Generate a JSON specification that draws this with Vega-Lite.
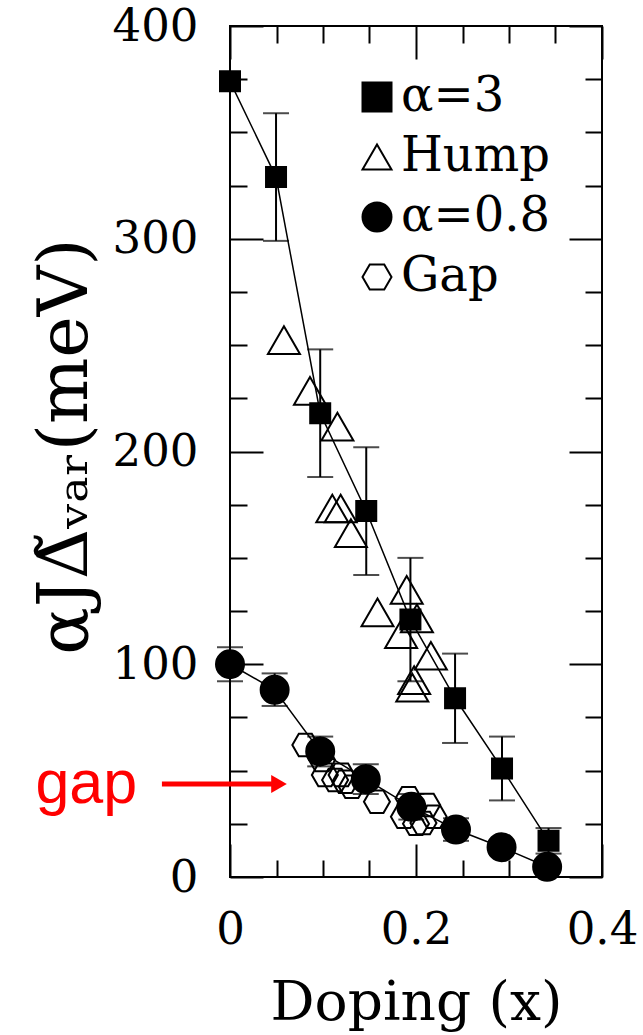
{
  "$schema": "https://vega.github.io/schema/vega-lite/v6.json",
  "width": 372,
  "height": 851,
  "autosize": {"type": "none"},
  "padding": {"left": 230, "top": 26, "right": 41, "bottom": 158},
  "background": "white",
  "config": {
    "view": {"stroke": "black", "strokeWidth": 2},
    "axis": {
      "domain": false,
      "grid": false,
      "tickColor": "black",
      "tickWidth": 2,
      "labelFont": "DejaVu Serif",
      "labelFontSize": 45,
      "labelColor": "black",
      "titleFont": "DejaVu Serif",
      "titleFontWeight": "normal",
      "titleColor": "black"
    },
    "legend": {
      "orient": "none", "legendX": 123, "legendY": 47, "title": null,
      "labelFont": "DejaVu Serif", "labelFontSize": 48, "labelColor": "black",
      "symbolSize": 841, "symbolStrokeWidth": 2,
      "rowPadding": 12, "labelOffset": 0, "padding": 0
    }
  },
  "datasets": {
    "pts": [
      {"series": "Gap", "x": 0.081, "v": 62},
      {"series": "Gap", "x": 0.099, "v": 55},
      {"series": "Gap", "x": 0.102, "v": 48},
      {"series": "Gap", "x": 0.113, "v": 45.6},
      {"series": "Gap", "x": 0.12, "v": 48},
      {"series": "Gap", "x": 0.124, "v": 44.8},
      {"series": "Gap", "x": 0.131, "v": 42.4},
      {"series": "Gap", "x": 0.158, "v": 35.4},
      {"series": "Gap", "x": 0.187, "v": 28.3},
      {"series": "Gap", "x": 0.192, "v": 37},
      {"series": "Gap", "x": 0.197, "v": 32.4},
      {"series": "Gap", "x": 0.2, "v": 25},
      {"series": "Gap", "x": 0.208, "v": 25.4},
      {"series": "Gap", "x": 0.212, "v": 33.8},
      {"series": "Gap", "x": 0.219, "v": 28.3},
      {"series": "Hump", "x": 0.058, "v": 252.4},
      {"series": "Hump", "x": 0.086, "v": 228.5},
      {"series": "Hump", "x": 0.1155, "v": 211.7},
      {"series": "Hump", "x": 0.11, "v": 173.2},
      {"series": "Hump", "x": 0.119, "v": 173.2},
      {"series": "Hump", "x": 0.13, "v": 161.6},
      {"series": "Hump", "x": 0.1586, "v": 124.4},
      {"series": "Hump", "x": 0.19, "v": 135},
      {"series": "Hump", "x": 0.201, "v": 121.6},
      {"series": "Hump", "x": 0.184, "v": 114.2},
      {"series": "Hump", "x": 0.216, "v": 104},
      {"series": "Hump", "x": 0.198, "v": 92.5},
      {"series": "Hump", "x": 0.196, "v": 89},
      {"series": "α=0.8", "x": 0, "v": 100},
      {"series": "α=0.8", "x": 0.048, "v": 88},
      {"series": "α=0.8", "x": 0.097, "v": 59},
      {"series": "α=0.8", "x": 0.146, "v": 46},
      {"series": "α=0.8", "x": 0.195, "v": 33},
      {"series": "α=0.8", "x": 0.243, "v": 22.3},
      {"series": "α=0.8", "x": 0.292, "v": 14},
      {"series": "α=0.8", "x": 0.341, "v": 4.8},
      {"series": "α=3", "x": 0, "v": 374},
      {"series": "α=3", "x": 0.0495, "v": 329},
      {"series": "α=3", "x": 0.097, "v": 218},
      {"series": "α=3", "x": 0.1465, "v": 172},
      {"series": "α=3", "x": 0.194, "v": 121},
      {"series": "α=3", "x": 0.242, "v": 84},
      {"series": "α=3", "x": 0.2925, "v": 51},
      {"series": "α=3", "x": 0.3425, "v": 17}
    ],
    "err": [
      {"x": 0.0495, "lo": 299, "hi": 359},
      {"x": 0.097, "lo": 188, "hi": 248},
      {"x": 0.1465, "lo": 142, "hi": 202},
      {"x": 0.194, "lo": 92, "hi": 150},
      {"x": 0.242, "lo": 63, "hi": 105},
      {"x": 0.2925, "lo": 36, "hi": 66},
      {"x": 0.3425, "lo": 11, "hi": 23},
      {"x": 0, "lo": 92, "hi": 108},
      {"x": 0.048, "lo": 80.4, "hi": 95.7},
      {"x": 0.097, "lo": 52, "hi": 66},
      {"x": 0.146, "lo": 39, "hi": 53},
      {"x": 0.195, "lo": 27, "hi": 39},
      {"x": 0.243, "lo": 17, "hi": 27.6},
      {"x": 0.292, "lo": 11, "hi": 17},
      {"x": 0.341, "lo": 2.8, "hi": 6.8}
    ],
    "arrow": [
      {"x": -0.0732, "x2": 0.05, "v": 43.7, "label": "gap", "tx": -0.1545, "tv": 34.8, "hx": 0.0527}
    ]
  },
  "layer": [
    {
      "data": {"name": "err"},
      "mark": {"type": "rule", "color": "black", "strokeWidth": 2},
      "encoding": {
        "x": {"field": "x", "type": "quantitative", "scale": {"domain": [0, 0.4], "nice": false, "zero": false},
          "axis": {"orient": "top", "labels": false, "title": null,
            "values": [0, 0.05, 0.1, 0.15, 0.2, 0.25, 0.3, 0.35, 0.4],
            "tickSize": {"condition": {"test": "abs(datum.value*5 - round(datum.value*5)) < 1e-6", "value": -33}, "value": -17}}},
        "y": {"field": "lo", "type": "quantitative", "scale": {"domain": [0, 400], "nice": false, "zero": false},
          "axis": {"orient": "right", "labels": false, "title": null,
            "values": [0, 25, 50, 75, 100, 125, 150, 175, 200, 225, 250, 275, 300, 325, 350, 375, 400],
            "tickSize": {"condition": {"test": "datum.value % 100 === 0", "value": -33}, "value": -17}}},
        "y2": {"field": "hi"}
      }
    },
    {
      "data": {"name": "err"},
      "mark": {"type": "tick", "color": "black", "orient": "horizontal", "size": 26, "thickness": 2},
      "encoding": {
        "x": {"field": "x", "type": "quantitative", "axis": null, "scale": {"domain": [0, 0.4], "nice": false, "zero": false}},
        "y": {"field": "lo", "type": "quantitative", "axis": null, "scale": {"domain": [0, 400], "nice": false, "zero": false}}
      }
    },
    {
      "data": {"name": "err"},
      "mark": {"type": "tick", "color": "black", "orient": "horizontal", "size": 26, "thickness": 2},
      "encoding": {
        "x": {"field": "x", "type": "quantitative", "axis": null, "scale": {"domain": [0, 0.4], "nice": false, "zero": false}},
        "y": {"field": "hi", "type": "quantitative", "axis": null, "scale": {"domain": [0, 400], "nice": false, "zero": false}}
      }
    },
    {
      "data": {"name": "pts"},
      "transform": [{"filter": "datum.series === 'α=3' || datum.series === 'α=0.8'"}],
      "mark": {"type": "line", "color": "black", "strokeWidth": 1.5},
      "encoding": {
        "x": {"field": "x", "type": "quantitative", "scale": {"domain": [0, 0.4], "nice": false, "zero": false},
          "axis": {"orient": "bottom", "title": "Doping (x)", "titleFontSize": 55, "titleBaseline": "alphabetic", "titleY": 142,
            "values": [0, 0.05, 0.1, 0.15, 0.2, 0.25, 0.3, 0.35, 0.4],
            "labelExpr": "abs(datum.value*5 - round(datum.value*5)) < 1e-6 ? format(datum.value, '~g') : ''",
            "labelPadding": 63, "labelFlush": false, "labelOverlap": false,
            "tickSize": {"condition": {"test": "abs(datum.value*5 - round(datum.value*5)) < 1e-6", "value": -33}, "value": -17}}},
        "y": {"field": "v", "type": "quantitative", "scale": {"domain": [0, 400], "nice": false, "zero": false},
          "axis": {"orient": "left", "title": "αJΔ̃ᵥₐᵣ(meV)", "titleFontSize": 70, "titleBaseline": "alphabetic", "titleX": -144, "titleAngle": 270, "titleY": 420,
            "values": [0, 25, 50, 75, 100, 125, 150, 175, 200, 225, 250, 275, 300, 325, 350, 375, 400],
            "labelExpr": "datum.value % 100 === 0 ? datum.label : ''",
            "labelPadding": 65, "labelFlush": false, "labelOverlap": false,
            "tickSize": {"condition": {"test": "datum.value % 100 === 0", "value": -33}, "value": -17}}},
        "detail": {"field": "series"}
      }
    },
    {
      "data": {"name": "pts"},
      "mark": {"type": "point", "filled": true, "stroke": "black", "strokeWidth": 2, "opacity": 1,
        "fill": {"expr": "indexof(['Hump', 'Gap'], datum.series || datum.value) >= 0 ? 'transparent' : 'black'"}},
      "encoding": {
        "x": {"field": "x", "type": "quantitative", "axis": null, "scale": {"domain": [0, 0.4], "nice": false, "zero": false}},
        "y": {"field": "v", "type": "quantitative", "axis": null, "scale": {"domain": [0, 400], "nice": false, "zero": false}},
        "shape": {"field": "series", "type": "nominal",
          "scale": {"domain": ["α=3", "Hump", "α=0.8", "Gap"],
            "range": ["square", "M0,-0.866L1,0.866L-1,0.866Z", "circle", "M-1,0L-0.5,-0.866L0.5,-0.866L1,0L0.5,0.866L-0.5,0.866Z"]}},
        "size": {"condition": [
          {"test": "datum.series === 'α=3'", "value": 400},
          {"test": "datum.series === 'Hump'", "value": 1024},
          {"test": "datum.series === 'α=0.8'", "value": 784}], "value": 676}
      }
    },
    {
      "data": {"name": "arrow"},
      "mark": {"type": "rule", "color": "#ff0000", "strokeWidth": 5},
      "encoding": {
        "x": {"field": "x", "type": "quantitative", "axis": null, "scale": {"domain": [0, 0.4], "nice": false, "zero": false}},
        "x2": {"field": "x2"},
        "y": {"field": "v", "type": "quantitative", "axis": null, "scale": {"domain": [0, 400], "nice": false, "zero": false}}
      }
    },
    {
      "data": {"name": "arrow"},
      "mark": {"type": "point", "shape": "triangle-right", "filled": true, "color": "#ff0000", "opacity": 1, "size": 324},
      "encoding": {
        "x": {"field": "hx", "type": "quantitative", "axis": null, "scale": {"domain": [0, 0.4], "nice": false, "zero": false}},
        "y": {"field": "v", "type": "quantitative", "axis": null, "scale": {"domain": [0, 400], "nice": false, "zero": false}}
      }
    },
    {
      "data": {"name": "arrow"},
      "mark": {"type": "text", "color": "#ff0000", "font": "Liberation Sans", "fontSize": 61, "align": "center", "baseline": "alphabetic"},
      "encoding": {
        "x": {"field": "tx", "type": "quantitative", "axis": null, "scale": {"domain": [0, 0.4], "nice": false, "zero": false}},
        "y": {"field": "tv", "type": "quantitative", "axis": null, "scale": {"domain": [0, 400], "nice": false, "zero": false}},
        "text": {"field": "label"}
      }
    }
  ],
  "resolve": {"axis": {"x": "independent", "y": "independent"}}
}
